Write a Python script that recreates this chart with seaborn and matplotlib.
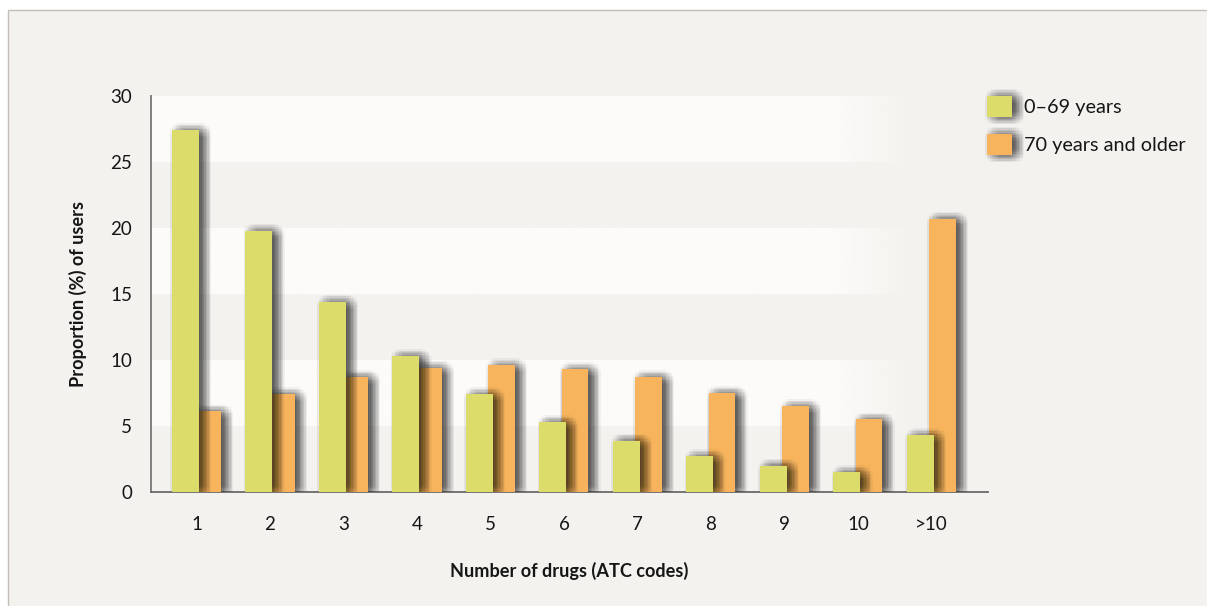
import numpy as np
import matplotlib
matplotlib.use("Agg")
import matplotlib.pyplot as plt
import matplotlib.patheffects as pe
from matplotlib.patches import Rectangle, Patch
from matplotlib.colors import to_rgb
import seaborn as sns

# Share of users by number of distinct drugs (ATC codes), by age group
categories = ["1", "2", "3", "4", "5", "6", "7", "8", "9", "10", ">10"]
under_70 = [27.4, 19.8, 14.4, 10.3, 7.4, 5.3, 3.9, 2.7, 2.0, 1.5, 4.3]
over_70 = [6.1, 7.4, 8.7, 9.4, 9.6, 9.3, 8.7, 7.5, 6.5, 5.5, 20.7]
series_labels = ["0–69 years", "70 years and older"]
y_ticks = [0, 5, 10, 15, 20, 25, 30]

GREEN = "#dbdc6a"
ORANGE = "#f8b45c"
BG = "#f3f2ee"
BAND = "#fcfbf9"
TEXT = "#161616"

sns.set_theme(style="white")
plt.rcParams["font.family"] = ["Lato", "DejaVu Sans"]

DPI = 100
W, H = 1207, 606
fig = plt.figure(figsize=(W / DPI, H / DPI), dpi=DPI, facecolor="white")

# panel background with a thin frame on the top and left
fig.add_artist(Rectangle((8 / W, -0.05), 1.1, 1 - 10.5 / H + 0.05,
                         transform=fig.transFigure, facecolor=BG,
                         edgecolor="#c6beb6", lw=1.0, zorder=-10))

ax = fig.add_axes([151 / W, 1 - 492 / H, (988 - 151) / W, (492 - 96) / H])
ax.set_facecolor("none")


def soft_shadow(shift_px=5.0, radius_px=8.0, alpha=0.0105):
    """Stacked offset copies that read as a blurred drop shadow."""
    to_pt = 72 / DPI
    effects = []
    steps = np.arange(-radius_px, radius_px + 0.01, 1.4)
    for dx in steps:
        for dy in steps:
            if dx * dx + dy * dy <= radius_px ** 2:
                effects.append(pe.SimplePatchShadow(
                    offset=((shift_px + dx) * to_pt, (dy - 0.5) * to_pt),
                    shadow_rgbFace="#262626", alpha=alpha))
    effects.append(pe.Normal())
    return effects


idx = np.arange(len(categories))
bar_w = 0.367
shift = 0.15

sns.barplot(x=idx + shift, y=over_70, native_scale=True, width=bar_w,
            color=ORANGE, saturation=1, linewidth=0, ax=ax, zorder=3)
sns.barplot(x=idx - shift, y=under_70, native_scale=True, width=bar_w,
            color=GREEN, saturation=1, linewidth=0, ax=ax, zorder=4)

shadow = soft_shadow()
for cont in ax.containers:
    for bar in cont:
        bar.set_path_effects(shadow)

xlim = (-0.619, 10.769)
ax.set_xlim(*xlim)
ax.set_ylim(0, 30)
ax.set_autoscale_on(False)

# alternating light bands that fade out towards the right
xs = np.linspace(xlim[0], xlim[1], 600)
fade_a, fade_b = (835 - 196.5) / 73.5, (915 - 196.5) / 73.5
band = np.zeros((1, xs.size, 4))
band[..., :3] = to_rgb(BAND)
band[..., 3] = np.clip((fade_b - xs) / (fade_b - fade_a), 0, 1)
for lo in (5, 15, 25):
    ax.imshow(band, extent=(xlim[0], xlim[1], lo, lo + 5), aspect="auto",
              interpolation="bilinear", zorder=0.5)

ax.set_xticks(idx, categories)
ax.set_yticks(y_ticks)
ax.tick_params(axis="both", length=0, labelsize=13.5, labelcolor=TEXT)
ax.tick_params(axis="y", pad=13.5)
ax.tick_params(axis="x", pad=17)

for side in ("top", "right"):
    ax.spines[side].set_visible(False)
ax.spines["left"].set_color("#808080")
ax.spines["left"].set_linewidth(1.4)
ax.spines["bottom"].set_color("#6a6a6a")
ax.spines["bottom"].set_linewidth(1.3)
ax.grid(False)

ax.set_xlabel("Number of drugs (ATC codes)", fontsize=13.1, fontweight="bold",
              color=TEXT, va="center")
ax.xaxis.set_label_coords(0.5, (492 - 571) / 396)
ax.set_ylabel("Proportion (%) of users", fontsize=13.1, fontweight="bold",
              color=TEXT, va="center")
ax.yaxis.set_label_coords((78 - 151) / 837, 0.5)

handles = [Patch(facecolor=GREEN, linewidth=0, label=series_labels[0], path_effects=shadow),
           Patch(facecolor=ORANGE, linewidth=0, label=series_labels[1], path_effects=shadow)]
fs = 14.3
fig.legend(handles=handles, loc="upper left",
           bbox_to_anchor=(987 / W, 1 - 96 / H), frameon=False, fontsize=fs,
           handlelength=25 / (fs * DPI / 72), handleheight=25 / (fs * DPI / 72),
           borderpad=0, borderaxespad=0, labelspacing=0.85, handletextpad=0.62,
           labelcolor=TEXT)

fig.savefig("out.png", dpi=DPI, facecolor="white")
